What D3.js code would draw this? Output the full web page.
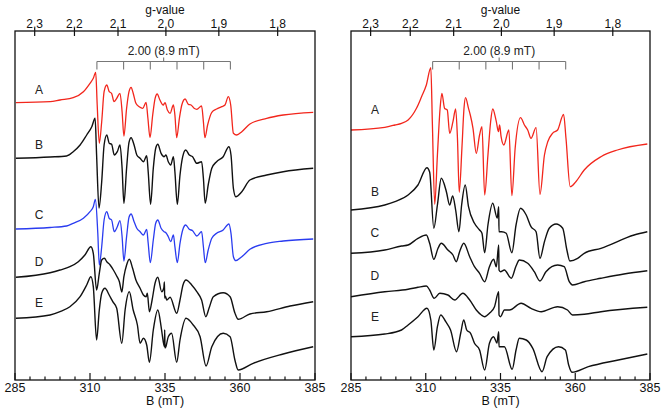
<!DOCTYPE html>
<html><head><meta charset="utf-8">
<script src="https://cdn.jsdelivr.net/npm/d3@7"></script>
<style>body{margin:0;background:#fff}svg{display:block;font-family:Arial,"Liberation Sans",sans-serif}</style>
</head><body><svg id="c" width="665" height="413"></svg>
<script>
// ---------- data ----------
const fieldTicks = [285, 310, 335, 360, 385];
const minorFieldTicks = d3.range(285, 386, 5);
const gTicks = [2.3, 2.2, 2.1, 2.0, 1.9, 1.8];
const gFieldProduct = 670.6;          // B(mT) * g  (h*nu/muB)
const stickLines = [312.3, 321.2, 330.1, 339.0, 347.9, 356.8];
const stickCenter = 334.55;
const stickLabel = "2.00 (8.9 mT)";
const traceNames = ["A", "B", "C", "D", "E"];
const leftLabelLevels = [290, 235, 165, 118, 77];
const rightLabelLevels = [270, 188, 147, 104, 63];

const leftA = [[285.3,277.3],[296.7,278.3],[300,280],[304.4,282.3],[307.8,288.3],[310,296.7],[311.1,301.7],[311.9,307.7],[312.4,275],[313.1,236.7],[313.9,258.3],[314.7,288.3],[315.6,295],[316.4,288.3],[317.2,286.7],[318,278.3],[318.9,281.7],[320,286.7],[320.7,268.3],[321.3,244],[322.2,271.7],[323,288.3],[323.7,292.7],[324.4,286.7],[325.3,276.7],[326.4,273.3],[327.6,271.7],[328.7,277.7],[329.3,261.7],[330,242.3],[330.9,265],[331.7,281.7],[332.4,286],[333.3,280],[334.4,275],[335,277.3],[335.8,270],[336.7,266.7],[337.8,275],[338.3,265],[338.9,242.3],[339.8,261.7],[340.6,275],[341.7,281],[342.8,275.7],[343.7,275],[344.7,271.7],[345.6,270.7],[347.2,274],[347.8,258.3],[348.3,242.3],[349.2,255],[350.6,267.7],[352.2,271],[353.9,273.3],[355,275],[356.1,283.3],[356.9,275],[357.8,246.7],[358.9,245],[360.6,248.3],[363.3,256],[368.9,261.7],[374.4,265],[384.4,267.7]];
const leftB = [[285.3,221.7],[296.7,223],[302.2,224],[304.4,228.3],[306.7,235],[308.9,245],[310.6,253.3],[311.7,261.7],[312.2,225],[313,172],[313.9,198.3],[314.7,235],[315.6,245],[316.4,236.7],[317.2,235.7],[318.1,225],[319.1,228.3],[320,235],[320.7,211.7],[321.3,176.7],[322.2,211.7],[323,237.7],[323.7,242.3],[324.7,235],[325.6,225],[326.7,221.7],[327.8,218.3],[328.9,224.3],[329.4,208.3],[330.2,175.7],[331.1,211.7],[331.9,231.7],[332.6,235.7],[333.7,226.7],[334.7,223.3],[335.3,225],[336.1,218.3],[336.9,215],[337.8,223.3],[338.3,208.3],[339.1,175.7],[340,205],[340.9,223.3],[341.9,230],[343.1,225],[344.2,223.3],[345.6,216.7],[347.2,218.3],[347.8,201.7],[348.4,176.7],[349.4,195],[350.6,211.7],[352.2,218.3],[354.4,223.3],[356.3,233.3],[357,225],[357.8,191.7],[358.6,183.3],[360.6,188.3],[363.3,200],[368.9,205],[374.4,208.3],[384.4,211.7]];
const leftC = [[285.3,151],[296.7,152.5],[302.2,154],[304.4,156.7],[307.8,161.7],[310,168.3],[311.1,173.3],[311.8,180.5],[312.6,146.7],[313.1,115],[313.9,133.3],[314.7,160],[315.6,168.3],[316.4,161.7],[317.2,160],[318.1,148.3],[319.1,153.3],[320,159.3],[320.7,143.3],[321.3,119],[322.2,143.3],[323,162.7],[323.7,166],[324.7,158.3],[325.6,151.7],[326.7,148.3],[327.8,145],[328.9,150.7],[329.4,136.7],[330.1,117.3],[331.1,140],[331.9,156.7],[332.6,160],[333.7,151.7],[334.7,148.3],[335.3,147.3],[336.1,143.3],[336.9,138.3],[337.8,145],[338.3,133.3],[339.1,117.3],[340,136.7],[340.9,150],[341.9,155],[343.1,150.7],[344.2,149.3],[345.6,144],[347.2,148.3],[347.8,133.3],[348.4,117.3],[349.4,130],[350.6,141.7],[352.2,146.7],[354.4,150],[356.3,156],[357,146.7],[357.8,123.3],[358.6,119.3],[360.6,123.3],[363.3,130.7],[368.9,136.7],[374.4,139],[384.4,141]];
const leftD = [[285.3,102.7],[296.7,107.3],[300,110],[303.3,113.3],[306.1,118.3],[308.3,125],[310.3,133.3],[311.1,126.7],[312.2,90],[313.1,106.7],[313.9,120],[314.8,121.7],[315.6,118.3],[316.7,115],[317.8,110],[318.9,104],[319.8,98.3],[320.6,88],[321.3,103.3],[322.2,115],[323.1,120.7],[324.2,111.7],[325.3,100],[326.7,91.7],[327.8,85],[328.7,83.3],[329.1,86.7],[329.8,68.3],[330.7,80],[331.7,97],[332.6,102.7],[333.9,88.3],[334.6,92],[334.8,98],[334.9,82],[335.1,84],[335.6,80],[336.7,82.7],[338.9,66.7],[340,80],[341,95],[342,100],[343.9,95],[345.6,88.3],[347.2,80],[348.6,63.3],[349.7,72],[351.1,83.3],[354.4,87.3],[356.7,83.3],[358.3,67],[359.4,60.7],[363.3,66],[368.9,68.3],[376.7,74],[384.4,78.3]];
const leftE = [[285.3,61.7],[296.7,65],[300,68.3],[303.3,73.3],[306.7,83.3],[308.9,95],[310.3,103.3],[311.1,93.3],[312.2,40],[313.1,70],[313.9,86.7],[315,91.7],[316.4,85],[317.6,78.3],[318.9,71.7],[320.6,36.7],[321.7,70],[323.1,88.3],[324.4,70],[325.8,55],[326.7,36.7],[327.8,41.7],[328.9,35],[329.8,17.7],[331.1,50],[332.6,70],[333.7,53.3],[334,47],[334.8,33.3],[334.9,50],[335,32],[335.3,33.3],[336.1,43.3],[337.2,46.7],[338.9,17.7],[340,40],[342,61.7],[344.4,55],[346.7,43.3],[348.7,14],[350.6,33.3],[354.4,46.7],[356.7,43.3],[358.3,20],[359.4,10],[364.4,16.7],[374.4,26],[384.4,33.3]];

const rightA = [[285,250],[296.3,252.7],[299.7,255],[301.9,256.7],[304.1,260],[306.9,271.7],[308.6,283.3],[310.2,295],[311.7,312.3],[312.2,258.3],[313,175.7],[313.9,225],[314.8,271.7],[315.4,286.7],[316.3,271.7],[317.2,270],[318,246.7],[319.1,258.3],[320,271],[320.6,242],[321.2,187.7],[322.1,232],[322.8,272],[323.3,282.3],[324.3,271.7],[324.9,265],[325.8,251.7],[326.9,226.7],[328,245],[328.8,253.3],[329.7,185],[330.8,225],[331.7,258.3],[332.4,271],[333.6,258.3],[334.3,248.3],[334.7,255],[335.2,243.3],[336.1,235],[337.8,250],[338.8,184.3],[339.9,231.7],[341.7,262.3],[343,255],[344.1,250],[345.2,241.7],[346.9,252.3],[348.2,185.7],[349.7,225],[350.8,238.3],[352.4,246.7],[354.1,250],[356.1,265.7],[356.9,241.7],[358.3,193.3],[360.2,198.3],[363,210],[368.6,223.3],[374.1,230],[384.1,236]];
const rightB = [[285,170],[296.3,175],[299.7,178.3],[304.1,185],[307.4,195],[310.4,212.3],[311.3,208],[312.7,151.7],[313.9,175],[315.2,201.7],[316.9,188.3],[318,175],[319,184],[320,170],[321.1,148.3],[322,175],[323.2,195],[324.3,173.3],[326.3,156.7],[328,150],[328.8,146.7],[329.7,127.3],[330.8,155],[332.4,176.7],[333.9,162],[334.4,173.3],[334.5,148.3],[335.4,148.3],[336.9,146.7],[338.8,127.3],[340.2,155],[341.7,171.7],[343.6,165],[345.2,153.3],[346.9,148.3],[348.2,121.7],[349.7,138.3],[351.3,151.7],[353.6,156],[355.8,151.7],[357.2,130],[358.2,119],[360.8,121.7],[363,126.7],[368.6,131.7],[379.7,145],[384.1,148.3]];
const rightC = [[285,126.7],[296.3,130],[301.9,134],[304.1,135],[307.4,141.7],[310.2,145],[311.3,136.7],[312.7,120.7],[314.1,131.7],[315.2,136.7],[317.4,130],[319.1,125],[320.2,118.3],[321.3,128],[322.7,136.7],[324.7,123.3],[326.3,113.3],[328,106.7],[329.7,98.3],[331.3,113.3],[332.7,120.7],[333.6,113.3],[334.4,135],[334.5,110],[335,108.3],[336.3,110],[338.6,101.7],[340.2,114],[341.3,120],[344.1,116.7],[346.3,108.3],[348.2,99],[350.2,108.3],[354.1,115],[356.3,113.3],[358,98.3],[359.1,95],[363,98.3],[368.6,101.7],[376.3,106],[384.1,109.3]];
const rightD = [[285,83.3],[296.3,88.3],[304.1,90.7],[307.4,92.7],[310.2,94],[311.3,90],[312.8,81.7],[314.7,86.7],[317.4,85],[319.7,80],[322.4,86.7],[324.7,80],[326.9,70],[328.6,65],[329.7,63.3],[331.3,66.7],[333,73.3],[334.4,88.3],[334.5,65],[335,63.3],[336.3,70],[338,70],[341.9,76.7],[345.2,71.7],[348.6,68.3],[354.1,73.3],[357.4,70],[359.1,65],[363,65.7],[368.6,68.3],[384.1,72.7]];
const rightE = [[285,43.3],[296.3,46],[301.9,50],[304.1,55],[307.4,63.3],[310.4,71.7],[311.7,60],[312.7,30],[313.9,53.3],[315,65],[316.7,58.3],[318.3,50],[320.3,28.3],[321.7,47],[322.7,60],[323.7,50],[325,46.7],[326.3,36.7],[328,30],[329.7,10],[331.3,36.7],[332.7,43.3],[333.8,37],[334.4,48.3],[334.5,33.3],[336.3,33.3],[338.9,10.7],[340.2,30],[341.3,41.7],[343.6,40],[345.8,31.7],[348.9,8.3],[350.6,23.3],[354.4,33.3],[356.7,30],[357.8,15],[358.9,7.7],[364.4,13.3],[374.4,20],[384.1,26]];

const leftTraces = [leftA, leftB, leftC, leftD, leftE];
const rightTraces = [rightA, rightB, rightC, rightD, rightE];
const leftColors = ["#f2261c", "#111111", "#2a3cf0", "#111111", "#111111"];
const rightColors = ["#f2261c", "#111111", "#111111", "#111111", "#111111"];

// ---------- drawing ----------
const svg = d3.select("#c");
const yTop = 31, yBottom = 380;
const y = d3.scaleLinear().domain([0, 349]).range([yBottom, yTop]);

function panel(x0, x1, traces, colors, labelLevels) {
  const x = d3.scaleLinear().domain([285, 385]).range([x0, x1]);
  const g = svg.append("g");
  const cx = (x0 + x1) / 2;

  const line = d3.line().x(d => x(d[0])).y(d => y(d[1])).curve(d3.curveMonotoneX);
  traces.forEach((t, i) => {
    g.append("path").attr("d", line(t)).attr("fill", "none")
      .attr("stroke", colors[i]).attr("stroke-width", colors[i] !== "#111111" ? 1.3 : 1.4)
      .attr("stroke-linejoin", "round");
  });

  traceNames.forEach((n, i) => {
    g.append("text").attr("x", x(293)).attr("y", y(labelLevels[i]))
      .attr("dy", "0.35em").attr("text-anchor", "middle")
      .attr("font-size", 12).attr("fill", "#222").text(n);
  });

  g.append("rect").attr("x", x0).attr("y", yTop).attr("width", x1 - x0).attr("height", yBottom - yTop)
    .attr("fill", "none").attr("stroke", "#111").attr("stroke-width", 1.3);

  g.selectAll(".mi").data(minorFieldTicks).enter().append("line")
    .attr("x1", d => x(d)).attr("x2", d => x(d))
    .attr("y1", yBottom).attr("y2", d => fieldTicks.includes(d) ? yBottom - 7 : yBottom - 3.5)
    .attr("stroke", "#111").attr("stroke-width", 1.2);
  g.selectAll(".bl").data(fieldTicks).enter().append("text")
    .attr("x", d => x(d)).attr("y", 392).attr("text-anchor", "middle")
    .attr("font-size", 12.5).attr("fill", "#111").text(d => d);
  g.append("text").attr("x", cx).attr("y", 405).attr("text-anchor", "middle")
    .attr("font-size", 12.5).attr("fill", "#111").text("B (mT)");

  g.selectAll(".gt").data(gTicks).enter().append("line")
    .attr("x1", d => x(gFieldProduct / d)).attr("x2", d => x(gFieldProduct / d))
    .attr("y1", yTop - 3).attr("y2", yTop + 5)
    .attr("stroke", "#111").attr("stroke-width", 1.2);
  g.selectAll(".gl").data(gTicks).enter().append("text")
    .attr("x", d => x(gFieldProduct / d)).attr("y", 27.5).attr("text-anchor", "middle")
    .attr("font-size", 12).attr("fill", "#111").text(d => d.toFixed(1));
  g.append("text").attr("x", cx).attr("y", 14).attr("text-anchor", "middle")
    .attr("font-size", 12).attr("fill", "#111").text("g-value");

  const sy = 61.5;
  g.append("line").attr("x1", x(stickLines[0])).attr("x2", x(stickLines[stickLines.length - 1]))
    .attr("y1", sy).attr("y2", sy).attr("stroke", "#777").attr("stroke-width", 1.1);
  g.selectAll(".st").data(stickLines).enter().append("line")
    .attr("x1", d => x(d)).attr("x2", d => x(d)).attr("y1", sy).attr("y2", sy + 8)
    .attr("stroke", "#777").attr("stroke-width", 1.1);
  g.append("line").attr("x1", x(stickCenter)).attr("x2", x(stickCenter))
    .attr("y1", sy).attr("y2", sy - 4).attr("stroke", "#777").attr("stroke-width", 1.1);
  g.append("text").attr("x", x(stickCenter)).attr("y", 54.5).attr("text-anchor", "middle")
    .attr("font-size", 12).attr("fill", "#222").text(stickLabel);
}

panel(15, 315, leftTraces, leftColors, leftLabelLevels);
panel(351, 650, rightTraces, rightColors, rightLabelLevels);
</script></body></html>
